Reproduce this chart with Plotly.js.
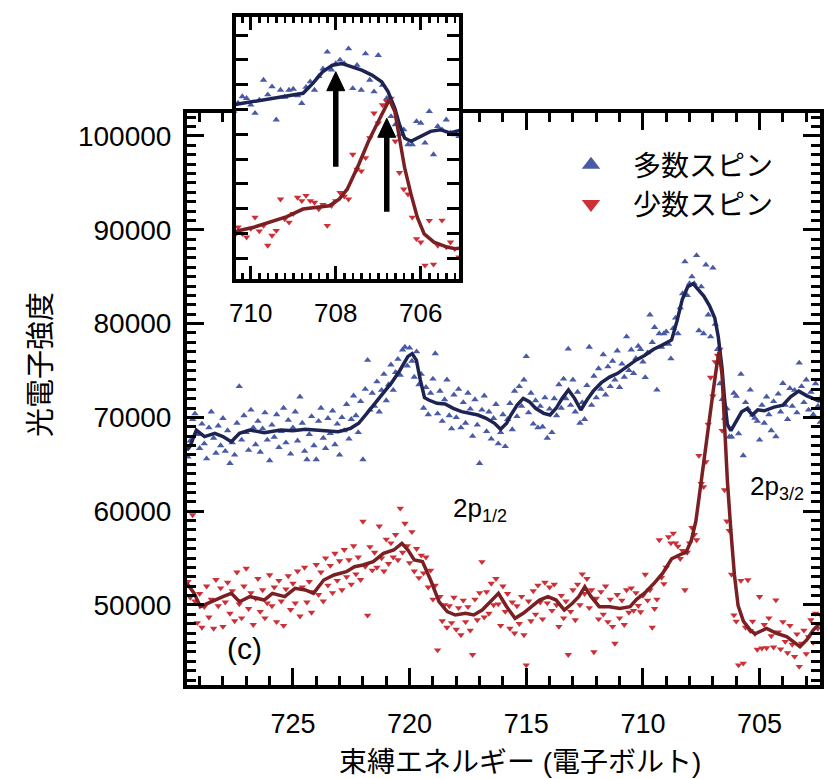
<!DOCTYPE html>
<html>
<head>
<meta charset="utf-8">
<script src="https://cdn.plot.ly/plotly-3.0.1.min.js"></script>
<style>html,body{margin:0;padding:0;background:#fff;}#chart{width:827px;height:779px;}</style>
</head>
<body>
<div id="chart"></div>
<script>
// Binding energy grid of the measured points (eV)
const energy = [
729.5,729.4,729.3,729.2,729.1,729.0,728.9,728.8,728.7,728.6,
728.5,728.4,728.3,728.2,728.1,728.0,727.9,727.8,727.7,727.6,
727.5,727.4,727.3,727.2,727.1,727.0,726.9,726.8,726.7,726.6,
726.5,726.4,726.3,726.2,726.1,726.0,725.9,725.8,725.7,725.6,
725.5,725.4,725.3,725.2,725.1,725.0,724.9,724.8,724.7,724.6,
724.5,724.4,724.3,724.2,724.1,724.0,723.9,723.8,723.7,723.6,
723.5,723.4,723.3,723.2,723.1,723.0,722.9,722.8,722.7,722.6,
722.5,722.4,722.3,722.2,722.1,722.0,721.9,721.8,721.7,721.6,
721.5,721.4,721.3,721.2,721.1,721.0,720.9,720.8,720.7,720.6,
720.5,720.4,720.3,720.2,720.1,720.0,719.9,719.8,719.7,719.6,
719.5,719.4,719.3,719.2,719.1,719.0,718.9,718.8,718.7,718.6,
718.5,718.4,718.3,718.2,718.1,718.0,717.9,717.8,717.7,717.6,
717.5,717.4,717.3,717.2,717.1,717.0,716.9,716.8,716.7,716.6,
716.5,716.4,716.3,716.2,716.1,716.0,715.9,715.8,715.7,715.6,
715.5,715.4,715.3,715.2,715.1,715.0,714.9,714.8,714.7,714.6,
714.5,714.4,714.3,714.2,714.1,714.0,713.9,713.8,713.7,713.6,
713.5,713.4,713.3,713.2,713.1,713.0,712.9,712.8,712.7,712.6,
712.5,712.4,712.3,712.2,712.1,712.0,711.9,711.8,711.7,711.6,
711.5,711.4,711.3,711.2,711.1,711.0,710.9,710.8,710.7,710.6,
710.5,710.4,710.3,710.2,710.1,710.0,709.9,709.8,709.7,709.6,
709.5,709.4,709.3,709.2,709.1,709.0,708.9,708.8,708.7,708.6,
708.5,708.4,708.3,708.2,708.1,708.0,707.9,707.8,707.7,707.6,
707.5,707.4,707.3,707.2,707.1,707.0,706.9,706.8,706.7,706.6,
706.5,706.4,706.3,706.2,706.1,706.0,705.9,705.8,705.7,705.6,
705.5,705.4,705.3,705.2,705.1,705.0,704.9,704.8,704.7,704.6,
704.5,704.4,704.3,704.2,704.1,704.0,703.9,703.8,703.7,703.6,
703.5,703.4,703.3,703.2,703.1,703.0,702.9,702.8,702.7,702.6,
702.5,702.4,702.3
];

// Majority spin (blue, up triangles) – measured points
const majorityCounts = [
65800,67500,69800,70400,68200,66700,69300,67200,65600,68900,
70600,67800,66200,69100,67000,69900,66400,68600,65100,67300,
66000,69400,73300,67600,70200,68400,66500,70800,68900,67100,
69600,66300,68800,70500,67600,65400,69200,67900,70300,66800,
68500,71000,67300,69700,66100,68900,70600,67500,72200,69400,
66400,65500,68200,70100,67000,65500,69600,71000,67800,66700,
69900,68300,70700,67100,69300,66000,70000,68600,71400,67700,
69800,72300,70200,68400,71700,65500,73000,76100,70800,72600,
71200,73800,70600,72900,74600,71800,73500,75600,72900,74800,
76200,74500,77200,77500,75500,77400,76000,74300,77000,73500,
74600,71000,73200,70300,72600,74100,76800,70400,72800,69600,
71900,74000,70200,68800,72400,70000,73000,68900,71600,69400,
72600,70900,68000,71900,69200,65100,70800,72300,68500,70600,
67700,69900,71400,67200,68400,70300,66900,69800,71500,68700,
72800,70100,73300,71200,74000,76500,70500,72600,69300,71800,
68900,71200,69000,72100,67800,70900,68400,72000,70200,73500,
71000,74100,72000,77300,71300,74000,70600,72700,69400,71600,
69800,73400,77500,71300,74400,72100,75200,73000,76700,72400,
75400,73300,76000,74000,77100,73200,75700,74300,78600,75000,
77200,74700,76300,77600,77260,75930,74260,76900,80930,78000,
79600,72930,78930,77500,78930,79130,77800,76260,79500,80600,
78930,81700,83200,86600,83000,84260,85000,84260,87260,79260,
83930,78930,86260,80930,78600,85930,79930,77260,73600,71930,
69930,70930,67930,67930,72600,72260,68260,74600,65930,71600,
70930,72930,70260,69930,69600,67600,71300,69400,72200,70300,
68600,71700,67950,72500,70600,73630,71300,69800,73100,71200,
72900,70500,75800,73300,71600,74000,70800,72700,70300,73600,
71200,69500,72400
];

// Minority spin (red, down triangles) – measured points
const minorityCounts = [
52500,50800,59600,50400,48100,51200,47600,49800,52000,48700,
50600,47500,52700,49900,51800,47700,50300,52400,49100,51500,
48300,53500,50100,48600,52000,53900,49600,51300,47900,50700,
52800,49300,51600,48600,50200,53200,49900,51900,48200,52600,
50400,47800,51700,53100,49500,52300,50200,53600,48800,51900,
54000,50300,52500,49200,51400,54300,51100,53500,50400,55000,
52100,54200,51300,55500,52600,54700,51600,55900,53000,54800,
52200,56300,53300,55100,52700,58900,54100,48900,56200,53700,
55600,54000,58400,55000,53600,57000,54400,56600,55100,57500,
54800,60300,55600,58700,56300,54500,57800,53600,56000,52900,
55300,53400,55100,51900,53700,50600,52100,45200,50900,48300,
50000,47600,49900,48100,50800,47400,49700,46800,50500,48200,
49800,47300,44700,50600,48400,51300,54600,48700,51400,49100,
52300,50000,52800,50100,47800,52000,49300,51200,47500,50300,
47000,49900,48000,50900,46800,43600,50400,48300,51500,49000,
52100,50300,48500,52400,50200,51900,49400,52200,50000,47700,
51000,48600,50400,44700,49300,51600,48400,52200,50000,53300,
51200,52800,49700,51600,45000,50700,48500,51400,49000,52000,
48200,50600,47700,45900,51100,48600,50500,47900,51600,49200,
51800,49400,51300,49930,49260,51000,53260,50500,51600,47600,
49600,50600,56930,52930,52260,54000,57260,56600,57640,56600,
56260,54930,55800,51600,55600,56600,58260,57500,56930,65930,
62930,62600,65260,69260,74260,72260,75930,76600,77260,68600,
62260,58930,57930,53260,48930,48260,43600,52600,43780,47600,
52670,47260,48260,46930,45260,50890,45400,47900,45420,48600,
46700,45500,50530,47100,45300,48200,46100,44900,47800,45800,
44500,46900,43430,45900,47300,44800,46600,48400,46000,49100,
47500,51950,48600
];

// Smoothed curves
const majorityLineE = [729.54,729.41,729.14,728.79,728.35,728.00,727.64,727.29,726.85,726.23,725.53,725.00,724.47,723.77,723.06,722.53,722.18,721.83,721.48,721.12,720.77,720.42,720.07,719.89,719.71,719.54,719.36,719.18,718.83,718.48,718.13,717.77,717.42,717.07,716.72,716.36,716.10,715.84,715.66,715.39,715.13,714.87,714.60,714.25,713.98,713.72,713.46,713.19,712.93,712.66,712.40,712.13,711.78,711.43,711.08,710.72,710.30,709.93,709.54,709.15,708.77,708.54,708.31,708.08,707.85,707.62,707.39,707.15,706.92,706.77,706.61,706.50,706.38,706.23,706.00,705.77,705.54,705.31,705.08,704.80,704.38,704.00,703.67,703.32,702.97,702.60,702.41];
const majorityLine = [66500,66900,68650,67950,68300,67950,67400,68300,68650,68370,68650,68580,68730,68580,68480,68830,69370,70430,71500,72600,73700,75000,76500,76800,76100,74000,72100,71850,71500,71430,70970,70610,70430,70250,69900,69370,68730,69370,70250,71320,72030,71680,70970,70430,70250,70970,72030,72920,72030,70790,71850,72800,73700,74300,74700,75400,76100,76600,77260,77730,78260,80260,82600,83930,84260,83600,82930,81930,80600,78600,75260,71930,69260,68600,69600,70600,70930,70260,70800,70700,71100,71300,72200,72800,72300,71900,71700];

const minorityLineE = [729.54,729.23,728.97,728.52,728.00,727.64,727.29,726.85,726.23,725.88,725.35,724.91,724.47,724.12,723.68,723.24,722.71,722.36,722.00,721.56,721.12,720.68,720.33,720.07,719.80,719.45,719.10,718.74,718.39,718.04,717.60,717.25,716.89,716.54,716.19,715.84,715.48,715.13,714.78,714.43,714.07,713.72,713.37,713.02,712.75,712.49,712.22,711.87,711.43,710.99,710.55,710.27,709.93,709.54,709.15,708.77,708.38,708.15,707.92,707.73,707.46,707.23,707.00,706.85,706.74,706.61,706.50,706.38,706.23,706.08,705.92,705.69,705.38,705.19,704.70,704.27,703.84,703.27,702.98,702.70,702.41];
const minorityLine = [52300,51240,49820,50350,50890,51240,50350,50890,50530,51240,50890,51780,51600,51240,52660,53200,53550,54080,54260,54620,55500,55860,56570,55860,54800,54620,52660,50350,49290,48930,49110,48930,49460,50350,51240,49820,48580,49110,49820,50530,50890,50530,49460,50180,50890,51950,50890,49820,49820,49640,49820,50600,51260,52260,53400,54930,55400,55600,56930,58930,63930,68600,72600,75260,77000,74600,69260,63260,57930,53260,49930,48260,47260,46930,47510,46980,46620,45560,46270,47330,48040];

// Labels
const seriesNames = ['多数スピン', '少数スピン'];
const xTitle = '束縛エネルギー (電子ボルト)';
const yTitle = '光電子強度';
const peakMain = ['2p', '2p'];
const peakSub = ['1/2', '3/2'];
const panelLabel = '(c)';

// Inset arrows (energy, tail, head) in inset data units
const arrowE = [708.0, 706.8];
const arrowTail = [63470, 54400];
const arrowHead = [82620, 73230];

const BLUE = '#4a5ba6';
const RED = '#cc3036';
const BLUE_LINE = '#1d2352';
const RED_LINE = '#7a1f22';
const FONT = '"Liberation Sans", Arial, "Noto Sans CJK JP", sans-serif';
const CJK = '"Noto Sans CJK JP", "Liberation Sans", sans-serif';

const W = 827, H = 779;
function fx(p) { return p / W; }
function fy(p) { return 1 - p / H; }

const traces = [];
['', '2'].forEach(function (s) {
  traces.push({x: energy, y: majorityCounts, xaxis: 'x' + s, yaxis: 'y' + s, type: 'scatter', mode: 'markers',
    marker: {symbol: 'triangle-up', size: 6.5, color: BLUE}, showlegend: false, cliponaxis: true});
  traces.push({x: energy, y: minorityCounts, xaxis: 'x' + s, yaxis: 'y' + s, type: 'scatter', mode: 'markers',
    marker: {symbol: 'triangle-down', size: 6.5, color: RED}, showlegend: false, cliponaxis: true});
  traces.push({x: majorityLineE, y: majorityLine, xaxis: 'x' + s, yaxis: 'y' + s, type: 'scatter', mode: 'lines',
    line: {color: BLUE_LINE, width: 3.5}, showlegend: false});
  traces.push({x: minorityLineE, y: minorityLine, xaxis: 'x' + s, yaxis: 'y' + s, type: 'scatter', mode: 'lines',
    line: {color: RED_LINE, width: 3.5}, showlegend: false});
});
traces.push({x: [null], y: [null], type: 'scatter', mode: 'markers', name: seriesNames[0],
  marker: {symbol: 'triangle-up', size: 16, color: BLUE}});
traces.push({x: [null], y: [null], type: 'scatter', mode: 'markers', name: seriesNames[1],
  marker: {symbol: 'triangle-down', size: 16, color: RED}});

const frame = {showline: true, linewidth: 4, linecolor: 'black', mirror: 'allticks', ticks: 'inside',
  tickcolor: 'black', tickwidth: 3, showgrid: false, zeroline: false, fixedrange: true};

// inset scale (px per unit) used to size the arrow heads
const INSET_X_RANGE = [710.355, 705.10];
const INSET_Y_RANGE = [40830, 93650];
const insetPxPerE = (459 - 235.7) / (INSET_X_RANGE[0] - INSET_X_RANGE[1]);
const insetPxPerY = (279 - 17) / (INSET_Y_RANGE[1] - INSET_Y_RANGE[0]);
const headHalfW = 9 / insetPxPerE, headLen = 19 / insetPxPerY;

const shapes = [];
arrowE.forEach(function (e, i) {
  shapes.push({type: 'line', xref: 'x2', yref: 'y2', x0: e, x1: e, y0: arrowTail[i], y1: arrowHead[i] - headLen * 0.8,
    line: {color: 'black', width: 5.5}});
  shapes.push({type: 'path', xref: 'x2', yref: 'y2',
    path: 'M' + (e + headHalfW) + ',' + (arrowHead[i] - headLen) + ' L' + e + ',' + arrowHead[i] + ' L' + (e - headHalfW) + ',' + (arrowHead[i] - headLen) + ' Z',
    fillcolor: 'black', line: {color: 'black', width: 1}});
});

const annotations = [
  {xref: 'paper', yref: 'paper', x: fx(520), y: fy(762), text: xTitle, showarrow: false,
    font: {family: FONT, size: 28}, xanchor: 'center', yanchor: 'middle'},
  {xref: 'paper', yref: 'paper', x: fx(38), y: fy(365), text: yTitle, showarrow: false, textangle: -90,
    font: {family: CJK, size: 29}, xanchor: 'center', yanchor: 'middle'},
  {xref: 'paper', yref: 'paper', x: fx(244), y: fy(648), text: panelLabel, showarrow: false,
    font: {family: FONT, size: 30}, xanchor: 'center', yanchor: 'middle'}
];
// peak labels: "2p" + smaller lowered "1/2", "3/2"
const peakLeft = [452, 749], peakMid = [508, 486];
peakMain.forEach(function (t, i) {
  annotations.push({xref: 'paper', yref: 'paper', x: fx(peakLeft[i]), y: fy(peakMid[i]), text: t, showarrow: false,
    font: {family: FONT, size: 26}, xanchor: 'left', yanchor: 'middle', borderpad: 0});
  annotations.push({xref: 'paper', yref: 'paper', x: fx(peakLeft[i] + 29), y: fy(peakMid[i] + 8), text: peakSub[i], showarrow: false,
    font: {family: FONT, size: 18}, xanchor: 'left', yanchor: 'middle', borderpad: 0});
});

const layout = {
  width: W, height: H,
  margin: {l: 0, r: 0, t: 0, b: 0},
  paper_bgcolor: 'white', plot_bgcolor: 'white',
  font: {family: FONT, color: 'black', size: 27},
  showlegend: true,
  legend: {x: fx(549), y: fy(140), xanchor: 'left', yanchor: 'top', font: {family: CJK, size: 28, color: 'black'},
    itemwidth: 74, bgcolor: 'rgba(0,0,0,0)', borderwidth: 0},
  xaxis: Object.assign({}, frame, {domain: [fx(187), fx(820)], range: [729.54, 702.41], anchor: 'y',
    dtick: 5, tick0: 0, ticklen: 17, tickfont: {size: 27, family: FONT}, ticklabelstandoff: 12,
    minor: {dtick: 1, ticklen: 9, tickwidth: 3, tickcolor: 'black', ticks: 'inside', showgrid: false}}),
  yaxis: Object.assign({}, frame, {domain: [fy(685), fy(113)], range: [41470, 102450], anchor: 'x',
    dtick: 10000, tick0: 0, ticklen: 17, tickformat: 'd', tickfont: {size: 28, family: FONT}, ticklabelstandoff: 6,
    minor: {dtick: 1000, ticklen: 9, tickwidth: 3, tickcolor: 'black', ticks: 'inside', showgrid: false}}),
  xaxis2: Object.assign({}, frame, {domain: [fx(235.7), fx(459)], range: INSET_X_RANGE, anchor: 'y2',
    dtick: 2, tick0: 0, ticklen: 13, tickfont: {size: 26, family: FONT}, ticklabelstandoff: 8,
    minor: {dtick: 0.2, ticklen: 6, tickwidth: 2.5, tickcolor: 'black', ticks: 'inside', showgrid: false}}),
  yaxis2: Object.assign({}, frame, {domain: [fy(279), fy(17)], range: INSET_Y_RANGE, anchor: 'x2',
    dtick: 5000, tick0: 0, ticklen: 12, showticklabels: false}),
  shapes: shapes,
  annotations: annotations
};

Plotly.newPlot('chart', traces, layout, {displayModeBar: false, staticPlot: true});
</script>
</body>
</html>
